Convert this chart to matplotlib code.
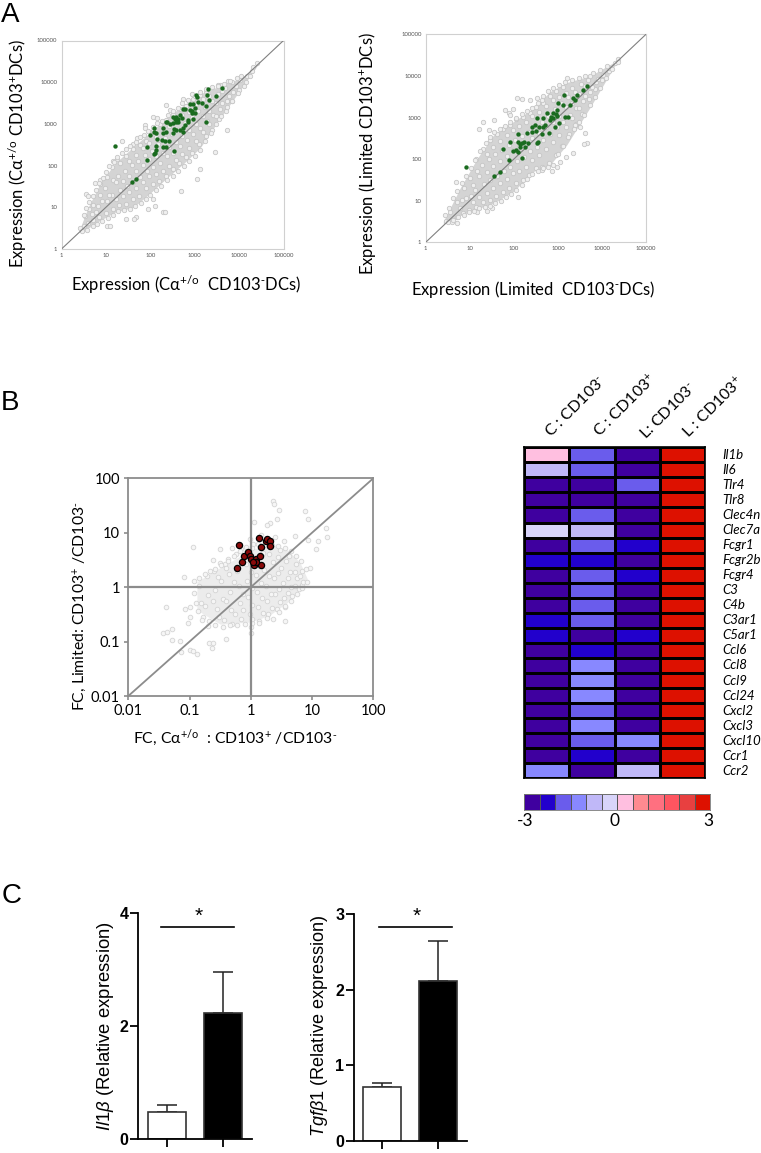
import numpy as np
import matplotlib
matplotlib.use('Agg')
import matplotlib.pyplot as plt
from matplotlib.colors import ListedColormap, BoundaryNorm

plt.rcParams['font.family'] = ['Lato', 'DejaVu Sans']
plt.rcParams['mathtext.fontset'] = 'custom'
plt.rcParams['mathtext.rm'] = 'Liberation Sans'
plt.rcParams['mathtext.it'] = 'Liberation Sans:italic'
plt.rcParams['mathtext.default'] = 'regular'

W, H = 761, 1153

# --- panel A, all values are log10 expression
a_ticks = [1, 10, 100, 1000, 10000, 100000]
a_ticklabels = ['1', '10', '100', '1000', '10000', '100000']

a1_band_x = [0.4, 0.6, 0.86, 1.2, 1.62, 2.0, 2.37, 2.75, 3.12, 3.5, 3.87, 4.15, 4.43]
a1_band_hi = [0.45, 1.0, 1.55, 2.05, 2.45, 2.8, 3.15, 3.45, 3.72, 3.88, 4.02, 4.18, 4.45]
a1_band_lo = [0.4, 0.5, 0.68, 0.88, 1.0, 1.34, 1.7, 2.05, 2.42, 3.02, 3.58, 4.0, 4.43]

a1_gray = [(.5,.56),(.52,.8),(.6,.62),(.62,.95),(.7,.7),(.72,1.05),(.68,.85),(.85,.76),(.83,1.02),(.87,1.3),(.86,1.55),
    (1.0,.86),(1.02,1.15),(.98,1.46),(1.03,1.72),(1.15,.97),(1.13,1.3),(1.17,1.66),(1.14,1.96),(1.3,1.06),(1.32,1.42),(1.28,1.76),(1.31,2.06),
    (1.45,1.08),(1.47,1.52),(1.43,1.86),(1.46,2.24),(1.6,1.21),(1.62,1.61),(1.58,2.02),(1.61,2.4),(1.75,1.27),(1.77,1.72),(1.73,2.11),(1.76,2.5),
    (1.9,1.46),(1.92,1.86),(1.88,2.26),(1.91,2.6),(2.05,1.56),(2.07,1.96),(2.03,2.36),(2.06,2.84),(2.2,1.62),(2.22,2.06),(2.18,2.51),(2.21,3.0),
    (2.35,1.76),(2.37,2.22),(2.33,2.66),(2.36,3.1),(2.5,1.91),(2.52,2.31),(2.48,2.76),(2.51,3.24),(2.65,2.06),(2.67,2.46),(2.63,2.86),(2.66,3.35),
    (2.8,2.21),(2.82,2.61),(2.78,3.01),(2.81,3.44),(2.95,2.31),(2.97,2.76),(2.93,3.16),(2.96,3.6),(3.1,2.51),(3.12,2.91),(3.08,3.31),(3.11,3.7),
    (3.25,2.71),(3.27,3.06),(3.23,3.41),(3.26,3.8),(3.4,2.86),(3.42,3.21),(3.38,3.56),(3.55,3.11),(3.57,3.36),(3.53,3.71),(3.56,3.94),
    (3.7,3.31),(3.72,3.56),(3.68,3.86),(3.85,3.56),(3.87,3.76),(3.83,4.0),(4.0,3.81),(4.02,4.06),(4.15,4.01),(4.17,4.16),(4.3,4.26),(4.32,4.36),
    (1.36,2.60),(1.62,2.52),(1.24,2.15),(1.17,2.11),(1.69,2.67),(1.88,2.97),(1.88,2.89),(2.06,3.17),(2.14,3.13),(2.35,3.46),(2.44,3.33),(2.73,3.60),
    (2.95,3.71),(3.53,3.93),(3.76,4.03),(4.40,4.45),(.55,1.32),(.6,1.26),(.75,1.59),(.86,1.65),(3.12,1.93),(3.05,1.69),(2.69,1.39),(2.28,.89),(2.32,.88),
    (2.07,1.20),(2.11,1.03),(1.95,.96),(1.68,.76),(1.64,.71),(1.45,.73),(1.02,.55),(1.09,.54),(3.46,2.33),(3.72,2.85),
    (.42,.5),(.5,.82),(.56,.98),(.63,1.12),(.7,1.26),(.78,1.42),(.85,1.58),(.93,1.7),(1.0,1.84),(1.08,1.98),(1.18,2.08),(1.26,2.2),(1.36,2.3),(1.46,2.4),
    (1.55,2.48),(1.67,2.56),(1.76,2.68),(1.85,2.74),(1.95,2.84),(2.05,2.92),(2.15,3.02),(2.26,3.08),(2.4,3.22),(2.5,3.32),(2.62,3.38),(2.72,3.5),(2.84,3.58),
    (3.0,3.68),(3.12,3.76),(3.25,3.84),(3.4,3.88),(3.52,3.92),(3.66,3.96),(3.8,4.02),(3.95,4.1),(4.05,4.16),
    (.46,.42),(.58,.46),(.7,.55),(.8,.6),(.92,.66),(1.05,.74),(1.15,.82),(1.27,.9),(1.4,.94),(1.55,.95),(1.66,1.02),(1.78,1.1),(1.9,1.2),(2.0,1.3),(2.12,1.42),
    (2.25,1.52),(2.38,1.66),(2.5,1.76),(2.62,1.88),(2.75,2.0),(2.88,2.12),(3.0,2.24),(3.12,2.38),(3.24,2.58),(3.36,2.78),(3.48,3.0),(3.6,3.2),(3.72,3.4),
    (3.84,3.55),(3.98,3.74),(4.1,3.92),(4.25,4.16),
    (.78,.88),(.92,1.16),(1.08,1.3),(1.22,1.2),(1.22,1.6),(1.38,1.26),(1.38,1.62),(1.52,1.36),(1.52,1.74),(1.52,2.12),(1.68,1.46),(1.68,1.88),(1.68,2.26),
    (1.84,1.6),(1.84,2.02),(1.84,2.42),(1.98,1.76),(1.98,2.16),(1.98,2.54),(2.12,1.8),(2.12,2.22),(2.12,2.68),(2.28,1.86),(2.28,2.3),(2.28,2.8),(2.42,2.0),
    (2.42,2.44),(2.42,2.94),(2.58,2.14),(2.58,2.56),(2.58,3.08),(2.72,2.28),(2.72,2.7),(2.72,3.22),(2.88,2.42),(2.88,2.86),(2.88,3.28),(3.02,2.6),(3.02,3.0),
    (3.02,3.48),(3.18,2.8),(3.18,3.2),(3.18,3.6),(3.32,3.0),(3.32,3.32),(3.32,3.68),(3.48,3.2),(3.48,3.5),(3.62,3.5),(3.62,3.8),(3.78,3.66),(3.92,3.9)]

a1_green = [(1.20,2.47),(1.59,1.61),(1.68,1.68),(1.92,2.13),(1.92,2.45),(2.00,2.73),(2.08,2.89),(2.08,2.81),(2.13,2.77),(2.16,2.64),(2.13,2.48),
    (2.13,2.37),(2.08,2.29),(2.11,2.31),(2.27,2.61),(2.33,2.59),(2.41,2.60),(2.29,2.45),(2.35,2.45),(2.29,2.77),(2.35,2.81),(2.29,2.89),(2.35,3.05),
    (2.37,3.04),(2.44,3.00),(2.52,3.01),(2.59,3.05),(2.50,3.17),(2.59,3.17),(2.67,3.21),(2.71,3.13),(2.54,2.87),(2.50,2.77),(2.59,2.85),(2.67,2.85),
    (2.74,2.81),(2.74,2.89),(2.78,2.97),(2.86,3.05),(2.97,3.12),(2.93,3.25),(2.89,3.33),(3.01,3.37),(2.73,3.35),(2.78,3.35),(2.89,3.47),(2.97,3.47),
    (3.05,3.65),(3.02,3.69),(3.08,3.53),(3.16,3.49),(3.25,3.43),(3.26,3.05),(3.27,3.69),(3.33,3.57),(3.31,3.83),(3.47,3.68),(3.61,3.85),(2.54,2.35),
    (2.63,3.05),(2.62,3.12),(2.56,3.12),(2.84,3.09),(2.95,3.3),(3.0,3.25)]

a2_band_x = [0.4, 0.78, 1.16, 1.54, 1.99, 2.44, 2.82, 3.2, 3.73, 4.33]
a2_band_hi = [0.5, 1.3, 2.0, 2.58, 2.9, 3.22, 3.62, 3.84, 4.0, 4.36]
a2_band_lo = [0.44, 0.64, 0.8, 0.94, 1.22, 1.7, 1.86, 2.34, 3.24, 4.32]

a2_gray = [(.45,.52),(.55,.72),(.6,.5),(.7,.98),(.72,.62),(.85,.7),(.83,1.02),(.87,1.3),(.98,.78),(1.02,1.12),(1.0,1.55),(1.15,.85),(1.13,1.25),(1.17,1.72),
    (1.14,2.0),(1.3,.98),(1.32,1.4),(1.28,1.85),(1.31,2.25),(1.45,1.02),(1.47,1.5),(1.43,2.0),(1.46,2.45),(1.6,1.12),(1.62,1.6),(1.58,2.12),(1.61,2.6),
    (1.75,1.2),(1.77,1.72),(1.73,2.22),(1.76,2.72),(1.9,1.3),(1.92,1.82),(1.88,2.34),(1.91,2.82),(2.05,1.42),(2.07,1.96),(2.03,2.46),(2.06,2.96),
    (2.2,1.5),(2.22,2.06),(2.18,2.56),(2.21,3.02),(2.35,1.62),(2.37,2.2),(2.33,2.66),(2.36,3.12),(2.5,1.78),(2.52,2.3),(2.48,2.8),(2.51,3.26),
    (2.65,1.8),(2.67,2.46),(2.63,2.9),(2.66,3.36),(2.8,1.9),(2.82,2.6),(2.78,3.04),(2.81,3.52),(2.95,2.1),(2.97,2.76),(2.93,3.2),(2.96,3.64),
    (3.1,2.32),(3.12,2.9),(3.08,3.34),(3.11,3.74),(3.25,2.6),(3.27,3.06),(3.23,3.5),(3.4,2.84),(3.42,3.24),(3.38,3.62),(3.55,3.08),(3.57,3.4),(3.53,3.8),
    (3.7,3.44),(3.72,3.62),(3.68,3.9),(3.85,3.68),(3.87,3.86),(4.0,3.9),(4.02,4.02),(4.15,4.12),(4.17,4.2),(4.3,4.3),(4.36,4.4),
    (.69,1.44),(1.31,2.90),(1.54,2.94),(1.20,2.72),(1.44,2.70),(1.79,3.17),(1.88,3.10),(1.99,3.21),(1.92,3.06),(2.08,3.46),(2.19,3.44),(2.37,3.42),
    (2.52,3.46),(2.63,3.42),(3.2,3.94),(3.73,4.0),(4.37,4.34),(3.62,2.62),(3.65,2.38),(3.6,2.36),(3.34,2.14),(3.18,2.04),(3.05,1.94),(2.97,1.82),
    (2.86,1.71),(2.63,1.74),(2.1,1.1),(1.5,.82),(1.38,.75),(1.16,.74),(.72,.46),(3.5,2.78),(3.39,2.82),
    (.44,.66),(.52,.82),(.62,1.06),(.72,1.24),(.82,1.42),(.92,1.6),(1.02,1.78),(1.12,1.98),(1.24,2.2),(1.36,2.38),(1.46,2.52),(1.56,2.64),(1.68,2.72),(1.8,2.8),
    (1.92,2.9),(2.06,3.0),(2.18,3.08),(2.3,3.16),(2.42,3.24),(2.54,3.36),(2.66,3.52),(2.78,3.64),(2.9,3.72),(3.02,3.78),(3.16,3.86),(3.32,3.9),(3.48,3.96),
    (3.62,4.0),(3.8,4.06),(3.96,4.14),(4.12,4.24),
    (.5,.48),(.62,.54),(.74,.6),(.86,.66),(.98,.72),(1.1,.76),(1.22,.82),(1.34,.86),(1.46,.88),(1.58,.94),(1.7,1.0),(1.82,1.08),(1.94,1.16),(2.06,1.26),(2.18,1.38),
    (2.3,1.52),(2.42,1.64),(2.54,1.72),(2.66,1.78),(2.78,1.8),(2.9,1.86),(3.0,2.12),(3.12,2.32),(3.24,2.52),(3.36,2.72),(3.48,2.9),(3.6,3.06),(3.72,3.3),(3.84,3.5),
    (3.96,3.72),(4.1,3.96),(4.22,4.16),
    (.78,.82),(.92,1.06),(1.08,.98),(1.08,1.38),(1.22,1.1),(1.22,1.6),(1.38,1.18),(1.38,1.7),(1.38,2.12),(1.52,1.3),(1.52,1.84),(1.52,2.28),(1.68,1.42),(1.68,1.96),
    (1.68,2.44),(1.84,1.52),(1.84,2.08),(1.84,2.58),(1.98,1.66),(1.98,2.22),(1.98,2.7),(2.12,1.72),(2.12,2.3),(2.12,2.8),(2.28,1.82),(2.28,2.36),(2.28,2.9),(2.42,1.98),
    (2.42,2.5),(2.42,3.04),(2.58,2.1),(2.58,2.62),(2.58,3.14),(2.72,2.24),(2.72,2.76),(2.72,3.28),(2.88,2.42),(2.88,2.9),(2.88,3.42),(3.02,2.58),(3.02,3.04),(3.02,3.5),
    (3.18,2.78),(3.18,3.26),(3.18,3.6),(3.32,3.0),(3.32,3.34),(3.32,3.72),(3.48,3.24),(3.48,3.56),(3.62,3.52),(3.62,3.76),(3.78,3.74),(3.92,3.92)]

a2_green = [(.91,1.82),(1.56,1.60),(1.69,1.69),(1.75,2.25),(1.89,1.97),(1.91,2.40),(1.99,2.20),(2.04,2.22),(2.10,2.18),(2.09,2.60),(2.10,2.42),(2.14,2.30),
    (2.18,2.38),(2.22,2.42),(2.19,2.03),(2.25,2.30),(2.33,2.38),(2.29,2.62),(2.41,2.78),(2.41,2.66),(2.48,2.82),(2.50,2.68),(2.54,2.42),(2.52,2.38),
    (2.53,2.98),(2.57,2.78),(2.63,2.60),(2.67,2.78),(2.71,2.82),(2.67,2.98),(2.75,3.10),(2.80,2.62),(2.82,2.94),(2.90,3.10),(2.93,2.78),(2.99,3.18),
    (3.03,2.86),(2.90,2.98),(3.01,3.34),(3.12,3.30),(3.15,3.54),(3.16,3.02),(3.24,3.02),(3.28,3.30),(3.35,3.46),(3.43,3.54),(3.56,3.66),(3.67,3.76),
    (3.39,3.42),(2.95,3.08),(2.98,3.04),(2.85,3.02),(2.15,2.36)]

# --- panel B, log10 fold change
b_ticks = [0.01, 0.1, 1, 10, 100]
b_ticklabels = ['0.01', '0.1', '1', '10', '100']
b_band_x = [-0.88, -0.5, 0.0, 0.3, 0.6, 0.8, 0.92]
b_band_hi = [0.1, 0.36, 0.68, 0.8, 0.68, 0.46, 0.16]
b_band_lo = [-0.42, -0.68, -0.64, -0.52, -0.28, -0.03, 0.12]

b_gray = [(.36,1.59),(.38,1.52),(.46,1.41),(.89,1.39),(.94,1.25),(1.23,1.08),(1.25,.92),(.06,1.2),(-.95,.74),(-1.09,.19),(-1.39,-.36),(-1.07,-.40),
    (-.99,-.36),(-1.0,-.54),(-1.02,-.66),(-1.44,-.84),(-1.37,-.82),(-1.28,-.77),(-1.28,-.97),(-1.16,-.99),(-1.14,-1.19),(-.99,-1.15),(-.94,-1.17),
    (-.88,-1.23),(-.69,-1.03),(-.64,-1.11),(-.61,-1.03),(-.41,-.95),(0,-.85),(.01,-.74),(.56,-.62),(.97,.35),(1.07,.71),(1.10,.84),(-.5,.71),(.31,1.17),
    (.26,1.14),(.42,1.25),(.72,.94),(.94,.87),(.83,.04),
    (-.85,.02),(-.82,-.3),(-.78,-.55),(-.72,.2),(-.7,-.15),(-.68,-.62),(-.6,.3),(-.58,-.05),(-.56,-.4),(-.5,.45),(-.48,.12),(-.46,-.22),(-.44,-.6),
    (-.38,.52),(-.36,.25),(-.34,-.08),(-.32,-.42),(-.3,-.68),(-.24,.6),(-.22,.3),(-.2,.02),(-.18,-.3),(-.16,-.58),(-.1,.7),(-.08,.42),(-.06,.12),(-.04,-.18),
    (-.02,-.5),(.04,.8),(.06,.52),(.08,.22),(.1,-.08),(.12,-.36),(.14,-.62),(.2,.62),(.22,.32),(.24,.02),(.26,-.26),(.28,-.5),(.34,.78),(.36,.46),(.38,.16),
    (.4,-.12),(.42,-.4),(.48,.68),(.5,.36),(.52,.08),(.54,-.2),(.56,-.36),(.62,.58),(.64,.28),(.66,0),(.68,-.16),(.74,.42),(.76,.16),(.78,-.04),(.84,.3),(.86,.1),
    (.4,.92),(.54,.84),(.16,.95),(-.02,.88),(-.3,.72),(-.62,.5),(-.42,.42),
    (-.92,.12),(-.84,.17),(-.74,.24),(-.66,.3),(-.58,.34),(-.48,.4),(-.38,.48),(-.28,.58),(-.18,.66),(-.08,.74),(.02,.72),(.12,.8),(.22,.78),(.32,.84),(.44,.76),(.56,.72),
    (.66,.66),(.74,.58),(.82,.48),(.9,.34),(-.92,-.1),(-.9,-.3),(-.86,-.44),(-.8,-.6),(-.7,-.72),(-.58,-.7),(-.46,-.74),(-.34,-.7),(-.22,-.7),(-.1,-.68),(.02,-.66),
    (.14,-.66),(.26,-.56),(.36,-.58),(.46,-.46),(.56,-.34),(.66,-.26),(.76,-.12),(.84,-.02),(.92,.1),
    (-.75,-.35),(-.62,-.25),(-.54,.18),(-.52,-.55),(-.4,.35),(-.4,-.25),(-.28,.1),(-.26,-.5),(-.14,.48),(-.13,-.12),(-.12,-.42),(0,.28),(.02,-.02),(.02,-.32),(.02,-.58),
    (.14,.38),(.16,.08),(.18,-.2),(.2,-.48),(.3,.6),(.3,.2),(.33,-.12),(.34,-.38),(.44,.56),(.44,.26),(.46,-.04),(.48,-.28),(.58,.48),(.6,.16),(.6,-.1),(.72,.28),(.72,.02),(.8,.2)]

b_red = [(-.23,.35),(-.20,.77),(-.14,.46),(-.11,.57),(-.05,.65),(-.02,.57),(.01,.51),(.05,.41),(.08,.51),(.15,.58),(.16,.41),(.13,.91),(.17,.73),
    (.24,.85),(.27,.88),(.31,.84),(.31,.76),(.08,.47),(.03,.47)]

# --- heatmap
genes = ['Il1b', 'Il6', 'Tlr4', 'Tlr8', 'Clec4n', 'Clec7a', 'Fcgr1', 'Fcgr2b', 'Fcgr4', 'C3', 'C4b', 'C3ar1', 'C5ar1', 'Ccl6', 'Ccl8', 'Ccl9',
    'Ccl24', 'Cxcl2', 'Cxcl3', 'Cxcl10', 'Ccr1', 'Ccr2']
heat_c_neg = [.25, -.75, -2.75, -2.75, -2.75, -.25, -2.75, -2.25, -2.75, -2.75, -2.75, -2.25, -2.25, -2.75, -2.75, -2.75, -2.75, -2.75, -2.75, -2.75, -2.75, -1.25]
heat_c_pos = [-1.75, -1.75, -2.75, -2.75, -1.75, -.75, -1.75, -2.25, -1.75, -1.75, -1.75, -1.75, -2.75, -2.25, -1.25, -1.25, -1.25, -1.75, -1.25, -1.75, -2.25, -2.75]
heat_l_neg = [-2.75, -2.75, -1.75, -2.75, -2.75, -2.75, -2.25, -2.75, -2.25, -2.75, -2.75, -2.75, -2.25, -2.75, -2.75, -2.75, -2.75, -2.75, -2.75, -1.25, -2.75, -.75]
heat_l_pos = [2.75] * 22
heat_colors = ['#3f009f', '#2200cc', '#6a5cec', '#8888ff', '#c0b8f8', '#d8d4fa', '#ffbfe0', '#ff8a90', '#ff7080', '#ff5560', '#e84040', '#dd1100']
heat_levels = [-3, -2.5, -2, -1.5, -1, -.5, 0, .5, 1, 1.5, 2, 2.5, 3]

# --- bars
il1b_means = [0.48, 2.24]
il1b_err = [0.12, 0.72]
tgfb_means = [0.71, 2.11]
tgfb_err = [0.05, 0.54]


def add_ax(l, t, r, b):
    return fig.add_axes([l/W, 1-b/H, (r-l)/W, (b-t)/H])


def txt(x, y, s, **kw):
    kw.setdefault('ha', 'center')
    kw.setdefault('va', 'center')
    return fig.text(x/W, 1-y/H, s, **kw)


def log_scatter(ax, band_x, band_hi, band_lo, gray, fill, edge, face, s):
    ax.fill_between(np.power(10.0, band_x), np.power(10.0, band_lo), np.power(10.0, band_hi), color=fill, lw=0, zorder=1)
    g = np.array(gray)
    ax.scatter(np.power(10.0, g[:, 0]), np.power(10.0, g[:, 1]), s=s, facecolor=face, edgecolor=edge, linewidth=0.6, zorder=2)


fig = plt.figure(figsize=(W/100, H/100), dpi=100)

for box, band, gray, green in [
        ((61.5, 40.5, 283.5, 249), (a1_band_x, a1_band_hi, a1_band_lo), a1_gray, a1_green),
        ((425.7, 34.3, 646, 242.3), (a2_band_x, a2_band_hi, a2_band_lo), a2_gray, a2_green)]:
    ax = add_ax(*box)
    ax.set_xscale('log')
    ax.set_yscale('log')
    ax.set_xlim(1, 100000)
    ax.set_ylim(1, 100000)
    log_scatter(ax, band[0], band[1], band[2], gray, '#d4d4d4', '#c6c6c6', '#efefef', 10)
    ax.plot([1, 100000], [1, 100000], color='#808080', lw=0.8, zorder=3)
    gr = np.array(green)
    ax.scatter(np.power(10.0, gr[:, 0]), np.power(10.0, gr[:, 1]), s=10, color='#1a6b1f', linewidth=0, zorder=4)
    ax.set_xticks(a_ticks)
    ax.set_xticklabels(a_ticklabels)
    ax.set_yticks(a_ticks)
    ax.set_yticklabels(a_ticklabels)
    ax.minorticks_off()
    ax.tick_params(length=0, labelsize=4.3, colors='#555555', pad=3)
    for sp in ax.spines.values():
        sp.set_color('#d0d0d0')
        sp.set_linewidth(0.8)

MINUS = '$^{\\text{-}}$'
PLUS = '$^{+}$'
txt(186, 285, 'Expression (C$\\alpha^{+/o}$  CD103' + MINUS + 'DCs)', fontsize=12)
txt(18, 154, 'Expression (C$\\alpha^{+/o}$ CD103' + PLUS + 'DCs)', fontsize=12, rotation=90)
txt(533, 290, 'Expression (Limited  CD103' + MINUS + 'DCs)', fontsize=12)
txt(367, 154, 'Expression (Limited CD103' + PLUS + 'DCs)', fontsize=12, rotation=90)

# panel B scatter
ax = add_ax(128.3, 478.3, 373.3, 696)
ax.set_xscale('log')
ax.set_yscale('log')
ax.set_xlim(0.01, 100)
ax.set_ylim(0.01, 100)
log_scatter(ax, b_band_x, b_band_hi, b_band_lo, b_gray, '#ececec', '#d4d4d4', '#f6f6f6', 11)
ax.plot([0.01, 100], [0.01, 100], color='#8c8c8c', lw=1.3, zorder=3)
ax.axhline(1, color='#8c8c8c', lw=1.6, zorder=3)
ax.axvline(1, color='#8c8c8c', lw=1.6, zorder=3)
red = np.array(b_red)
ax.scatter(np.power(10.0, red[:, 0]), np.power(10.0, red[:, 1]), s=20, facecolor='#8b0a0a', edgecolor='black', linewidth=0.9, zorder=4)
ax.set_xticks(b_ticks)
ax.set_xticklabels(b_ticklabels)
ax.set_yticks(b_ticks)
ax.set_yticklabels(b_ticklabels)
ax.minorticks_off()
ax.tick_params(length=3, width=1.2, color='#8c8c8c', labelsize=10.5, pad=3)
for sp in ax.spines.values():
    sp.set_color('#8c8c8c')
    sp.set_linewidth(1.3)

txt(235, 738, 'FC, C$\\alpha^{+/o}$  : CD103' + PLUS + ' /CD103' + MINUS, fontsize=11.3)
txt(80, 606, 'FC, Limited: CD103' + PLUS + ' /CD103' + MINUS, fontsize=11.3, rotation=90)

# heatmap
cmap = ListedColormap(heat_colors)
norm = BoundaryNorm(heat_levels, cmap.N)
ax = add_ax(524, 447.3, 705, 778.3)
heat = np.array([heat_c_neg, heat_c_pos, heat_l_neg, heat_l_pos]).T
ax.pcolormesh(heat, cmap=cmap, norm=norm, edgecolors='black', linewidth=1.0)
ax.set_ylim(len(genes), 0)
ax.set_xticks([])
ax.set_yticks([])
for sp in ax.spines.values():
    sp.set_linewidth(1.2)
for i, g in enumerate(genes):
    ax.text(1.097, 1-(i+0.5)/len(genes), g, transform=ax.transAxes, fontstyle='italic', fontsize=9.5, va='center', ha='left')

for x0, y0, lab in [(547, 434, 'C : CD103' + MINUS), (596, 434, 'C : CD103' + PLUS), (642, 436, 'L: CD103' + MINUS), (685, 435, 'L : CD103' + PLUS)]:
    txt(x0, y0, lab, fontsize=11.5, rotation=45, ha='left', va='center', rotation_mode='anchor')

ax = add_ax(524, 794, 710, 810)
ax.pcolormesh(heat_levels, [0, 1], np.array([np.array(heat_levels[:-1]) + 0.25]), cmap=cmap, norm=norm, edgecolors='#555555', linewidth=0.4)
ax.set_xticks([])
ax.set_yticks([])
for sp in ax.spines.values():
    sp.set_color('#777777')
    sp.set_linewidth(0.6)
txt(525, 821, '-3', fontsize=12.5)
txt(615, 821, '0', fontsize=12.5)
txt(708, 821, '3', fontsize=12.5)

# bars
for box, xlim, ylim, yt, means, errs, sig, star_x, label, lx, lsize in [
        ((138.3, 913.3, 252, 1139), (0.497, 2.51), 4, [0, 2, 4], il1b_means, il1b_err, (0.90, 2.19, 3.76), 1.57, '$\\mathit{Il1\\beta}$ (Relative expression)', 105, 13.3),
        ((354, 914.3, 467, 1140.7), (0.51, 2.507), 3, [0, 1, 2, 3], tgfb_means, tgfb_err, (0.95, 2.25, 2.835), 1.62, '$\\mathit{Tgf\\beta1}$ (Relative expression)', 320, 13.1)]:
    ax = add_ax(*box)
    ax.bar([1, 2], means, width=0.673, color=['white', 'black'], edgecolor='#333333', linewidth=1.2, zorder=2)
    ax.errorbar([1, 2], means, yerr=[[0, 0], errs], fmt='none', ecolor='#222222', elinewidth=1.1, capsize=7.5, capthick=1.1, zorder=1)
    ax.plot(sig[:2], [sig[2], sig[2]], color='black', lw=1.2)
    ax.text(star_x, sig[2] + ylim * 0.045, '*', fontsize=15, family='Liberation Sans', ha='center', va='center')
    ax.set_xlim(*xlim)
    ax.set_ylim(0, ylim)
    ax.set_xticks([1, 2])
    ax.set_xticklabels([])
    ax.set_yticks(yt)
    ax.set_yticklabels([str(v) for v in yt], family='Liberation Sans', fontweight='bold', fontsize=11.5)
    ax.tick_params(axis='both', length=5.5, width=1.3, pad=1.5)
    ax.spines['top'].set_visible(False)
    ax.spines['right'].set_visible(False)
    ax.spines['left'].set_linewidth(1.3)
    ax.spines['bottom'].set_linewidth(1.3)
    txt(lx, 1026, label, family='Liberation Sans', fontsize=lsize, rotation=90)

txt(10, 15, 'A', family='Liberation Sans', fontsize=20)
txt(10, 403, 'B', family='Liberation Sans', fontsize=20)
txt(12, 896, 'C', family='Liberation Sans', fontsize=20)

fig.savefig('out.png', dpi=100)
